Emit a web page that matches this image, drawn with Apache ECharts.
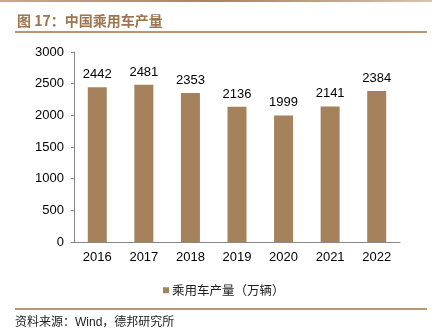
<!DOCTYPE html>
<html><head><meta charset="utf-8">
<script src="https://cdn.jsdelivr.net/npm/echarts@6/dist/echarts.min.js"></script>
<style>html,body{margin:0;padding:0;background:#fff}#c{width:435px;height:333px}</style>
</head><body><div id="c"></div>
<script>
const categories = ['2016','2017','2018','2019','2020','2021','2022'];
const production = [2442, 2481, 2353, 2136, 1999, 2141, 2384];
const seriesName = '乘用车产量（万辆）';
const titleText = '图 17：中国乘用车产量';
const sourceText = '资料来源：Wind，德邦研究所';

const chart = echarts.init(document.getElementById('c'));
chart.setOption({
  animation: false,
  grid: {left: 74, right: 35, top: 52, bottom: 91},
  title: {text: titleText, left: 12, top: 9,
    textStyle: {fontSize: 14, fontWeight: 'bold', color: '#9C7650', fontFamily: 'Noto Sans CJK SC'}},
  legend: {data: [seriesName], left: 158, top: 279, itemWidth: 6, itemHeight: 6, itemGap: 4,
    icon: 'rect', textStyle: {fontSize: 12.5, color: '#222', fontFamily: 'Noto Sans CJK SC', padding: [0,0,0,-2]}},
  xAxis: {type: 'category', data: categories,
    axisLine: {lineStyle: {color: '#888'}},
    axisTick: {inside: true, length: 3, lineStyle: {color: '#888'}},
    axisLabel: {fontSize: 13, color: '#000', fontFamily: 'Arial, Liberation Sans, sans-serif', margin: 9}},
  yAxis: {type: 'value', min: 0, max: 3000, interval: 500,
    axisLine: {show: true, lineStyle: {color: '#888'}},
    axisTick: {show: true, length: 3, lineStyle: {color: '#888'}},
    splitLine: {show: false},
    axisLabel: {fontSize: 13, color: '#000', fontFamily: 'Arial, Liberation Sans, sans-serif', margin: 10,
      formatter: function (v) { return String(v); }}},
  series: [{name: seriesName, type: 'bar', data: production, barWidth: 19,
    itemStyle: {color: '#A5825B'},
    label: {show: true, position: 'top', distance: 6, fontSize: 13, color: '#000', fontFamily: 'Arial, Liberation Sans, sans-serif'}}],
  graphic: [
    {type: 'rect', shape: {x: 0, y: 0, width: 432, height: 2},
      style: {fill: new echarts.graphic.LinearGradient(0,0,1,0,[{offset:0,color:'#C9A98A'},{offset:0.5,color:'#A88460'},{offset:1,color:'#D9C3AD'}])}},
    {type: 'rect', shape: {x: 15, y: 31, width: 412, height: 2}, style: {fill: '#B89674'}},
    {type: 'rect', shape: {x: 15, y: 308, width: 412, height: 2}, style: {fill: '#B89674'}},
    {type: 'text', left: 15, top: 317, style: {text: sourceText, fontSize: 12, fill: '#222', fontFamily: 'Arial, Liberation Sans, Noto Sans CJK SC'}}
  ]
});
</script></body></html>
